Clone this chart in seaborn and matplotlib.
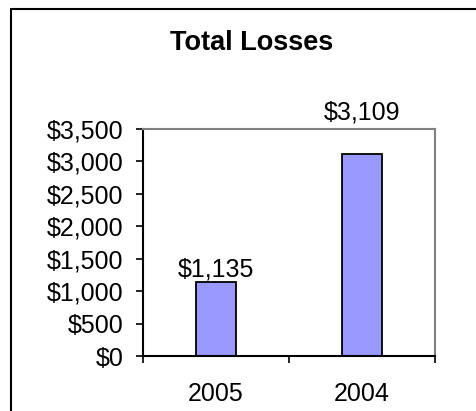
import pandas as pd
import matplotlib
matplotlib.use("Agg")
import matplotlib.pyplot as plt
from matplotlib.lines import Line2D
from matplotlib.ticker import FuncFormatter
import seaborn as sns

# Chart data
years = ["2005", "2004"]
losses = [1135, 3109]
label_offsets = [9.5, 30]  # points from bar top to label centre, as in the original
y_ticks = [0, 500, 1000, 1500, 2000, 2500, 3000, 3500]
title = "Total Losses"

sns.set_theme(style="white")
plt.rcParams["font.family"] = ["Liberation Sans", "DejaVu Sans"]

df = pd.DataFrame({"year": years, "loss": losses})

fig = plt.figure(figsize=(4.77, 4.11), dpi=100)
ax = fig.add_axes([0.2998, 0.1338, 0.912 - 0.2998, 0.686 - 0.1338])

sns.barplot(data=df, x="year", y="loss", order=years, ax=ax,
            color="#9999FF", saturation=1, width=0.28,
            edgecolor="black", linewidth=1.3)

ax.set_xlim(-0.5, 1.5)
ax.set_ylim(0, 3500)
ax.set_yticks(y_ticks)
ax.yaxis.set_major_formatter(FuncFormatter(lambda v, p: f"${v:,.0f}"))
ax.set_xlabel("")
ax.set_ylabel("")

# category ticks between bars, labels centred under bars
ax.set_xticks([-0.5, 0.5, 1.5])
ax.set_xticklabels(["", "", ""])
ax.set_xticks([0, 1], minor=True)
ax.set_xticklabels(years, minor=True)
ax.tick_params(axis="x", which="major", direction="out", length=5, width=1.2,
               color="black", bottom=True)
ax.tick_params(axis="x", which="minor", length=0, pad=19, labelsize=18,
               labelcolor="black")
ax.tick_params(axis="y", direction="out", length=5, width=1.2, color="black",
               left=True, pad=9, labelsize=18, labelcolor="black")

for side in ["left", "bottom"]:
    ax.spines[side].set_color("black")
    ax.spines[side].set_linewidth(1.5)
for side in ["top", "right"]:
    ax.spines[side].set_visible(True)
    ax.spines[side].set_color("#808080")
    ax.spines[side].set_linewidth(1.5)

# value labels
for i, (v, off) in enumerate(zip(losses, label_offsets)):
    ax.annotate(f"${v:,}", (i, v), xytext=(0, off), textcoords="offset points",
                ha="center", va="center", fontsize=18, color="black",
                annotation_clip=False)

fig.text(0.528, 0.895, title, ha="center", va="center",
         fontsize=19.5, fontweight="bold", color="black")

# outer chart frame (only top and left edges are in view)
fig.add_artist(Line2D([0.023, 1.0], [0.978, 0.978], transform=fig.transFigure,
                      color="black", linewidth=1.5))
fig.add_artist(Line2D([0.023, 0.023], [0.0, 0.978], transform=fig.transFigure,
                      color="black", linewidth=1.5))

fig.savefig("out.png", dpi=100, facecolor="white")
